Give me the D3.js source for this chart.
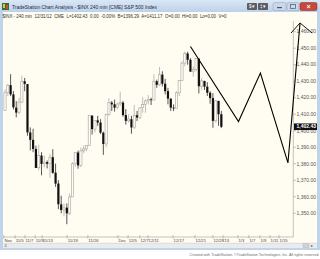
<!DOCTYPE html>
<html lang="en">
<head>
<meta charset="utf-8">
<title>TradeStation Chart Analysis - $INX 240 min</title>
<script src="https://cdn.jsdelivr.net/npm/d3@7"></script>
<style>
  body { margin: 0; background: #fff; }
  svg { display: block; font-family: "Liberation Sans", Arial, sans-serif; }
</style>
</head>
<body>
<div id="chart"></div>
<script>
// 240 min bars, S&P 500, Nov 1 - Dec 28 2012 (two bars a day, one on half days)
var opens  = [1412.2,1423,1427.6,1422,1414,1411,1417.3,1430,1428.3,1399,1394.5,1389,1377.6,1385,1379.9,1381,1380,1384,1374.6,1368,
              1355.4,1352,1353.4,1350,1359.9,1380,1386.8,1379,1387.8,1389,1391,1409.2,1401,1406.3,1405,1398.8,1392,1410,1417,1416,
              1414,1416.3,1417,1409.5,1406,1407,1402,1409.4,1408,1414,1416,1418.1,1419,1418.6,1430,1427.8,1434,1428.5,1424,1419.5,
              1414,1413.5,1423,1430.5,1441,1446.8,1443,1435.8,1437,1443.7,1427,1430.2,1426.7,1423,1419.8,1406,1418.1,1410];
var highs  = [1425,1428.4,1434.3,1424,1418,1419.9,1433.4,1432,1428.3,1402,1401.2,1391,1391.4,1387,1384.9,1382,1386,1388.8,1380.1,1370,
              1360.6,1356,1356,1362,1381,1386.9,1388,1389.8,1391,1391.3,1409.2,1409.2,1406.5,1409,1407,1399.5,1410.3,1419.7,1418,1418.9,
              1417,1423.7,1418,1413.1,1410,1409,1415.6,1412,1414,1420.3,1419,1421.6,1420,1434.3,1431,1438.6,1436,1431.4,1426,1419.5,
              1416,1424,1430.7,1442,1448,1447.8,1444,1439,1443.7,1443.7,1432,1430.2,1429.4,1424,1422.8,1418.5,1418.1,1412];
var lows   = [1412.2,1421,1421,1412.9,1408.1,1410,1417.3,1424,1397,1388.1,1387,1377.5,1376,1373,1378,1377.2,1371.4,1374,1366,1352.5,
              1350,1348.1,1343.4,1349,1359.9,1378,1377,1378,1386.4,1387.5,1391,1397.7,1399,1403,1398,1385.4,1390,1409,1412,1411.6,
              1413,1415,1408.5,1403.7,1405,1398.2,1401,1405.9,1407,1411,1410.9,1416,1415.6,1418.6,1426,1427,1426.8,1422,1416,1412,
              1411.9,1413.5,1421,1430.5,1439,1440,1435.8,1432.8,1436,1422.6,1425,1424.7,1421,1416.4,1401.8,1405,1403,1401.6];
var closes = [1423,1427.6,1422,1414.2,1411,1417.3,1430,1428.4,1399,1394.5,1389,1377.5,1385,1379.9,1381,1380,1384,1374.5,1368,1355.5,
              1352,1353.3,1350,1359.9,1380,1386.9,1379,1387.8,1389,1391,1409.2,1401,1406.3,1405,1398.9,1392,1409.9,1417,1416,1414,
              1416.2,1417,1409.5,1406,1407.1,1402,1409.3,1408,1413.9,1416,1418.1,1419,1418.6,1430,1427.8,1434,1428.5,1424,1419.5,1414,
              1413.6,1423,1430.4,1441,1446.8,1443,1435.8,1437,1443.7,1427,1430.2,1426.7,1423,1419.8,1406,1418.1,1410,1402.4];

var priceTicks = [1350,1360,1370,1380,1390,1400,1410,1420,1430,1440,1450,1460];
var lastPrice = 1402.43;

var dateLabels = ["Nov","11/5","11/7","11/9","11/13","11/19","11/26","Dec","12/5","12/7","12/11",
                  "12/17","12/21","12/28","'13","1/3","1/7","1/9","1/11","1/15"];
var dateIdx    = [-0.4,3.6,7.1,10.7,13.2,22.1,29.5,40.2,43.8,48,50.9,59.8,67.6,74,77.6,82.9,86.8,90.7,94.3,97.5];

// hand drawn projection line and its arrow head (bar index, price)
var drawIdx   = [66.0, 83.1, 90.9, 100.7, 105.0];
var drawPrice = [1451.0, 1405.6, 1435.0, 1380.5, 1465.3];
var arrowIdx   = [101.8, 105.0, 109.3];
var arrowPrice = [1459.2, 1465.3, 1459.2];

var titleText = "TradeStation Chart Analysis - $INX 240 min [CME] S&P 500 Index";
var infoText = "$INX - 240 min  12/31/12  CME  L=1402.43  0.00  -0.00%  B=1396.29  A=1411.17  O=0.00  Hi=0.00  Lo=0.00  V=0";
var footText = "Created with TradeStation. \u00a9TradeStation Technologies, Inc. All rights reserved";

var W = 320, H = 259;
var svg = d3.select("#chart").append("svg")
    .attr("width", W)
    .attr("height", H);

var x = d3.scaleLinear().domain([0, 102.5]).range([5, 293]);
var y = d3.scaleLinear().domain([1350, 1460]).range([213.3, 31.7]);

// window frame
var defs = svg.append("defs");
var tg = defs.append("linearGradient").attr("id", "tbar").attr("x1", 0).attr("y1", 0).attr("x2", 0).attr("y2", 1);
tg.append("stop").attr("offset", "0%").attr("stop-color", "#dbe7f5");
tg.append("stop").attr("offset", "100%").attr("stop-color", "#bcd1ea");

svg.append("rect").attr("width", W).attr("height", H).attr("fill", "#fff");
svg.append("rect").attr("width", W).attr("height", 250).attr("fill", "#bfd3eb");
svg.append("rect").attr("width", W).attr("height", 12).attr("fill", "url(#tbar)");

// icon
svg.append("rect").attr("x", 2).attr("y", 3).attr("width", 7).attr("height", 7).attr("fill", "#2f6f3a");
svg.append("rect").attr("x", 3).attr("y", 4).attr("width", 2).attr("height", 4).attr("fill", "#e8c23a");
svg.append("rect").attr("x", 6).attr("y", 5).attr("width", 2).attr("height", 4).attr("fill", "#d9453a");

svg.append("text").attr("x", 12).attr("y", 8.6)
    .attr("font-size", 5.2).attr("fill", "#1d2b3d")
    .attr("textLength", 145).attr("lengthAdjust", "spacingAndGlyphs")
    .text(titleText);

// title bar buttons
[247, 258].forEach(function(bx, i) {
  svg.append("rect").attr("x", bx).attr("y", 3).attr("width", 10).attr("height", 7)
     .attr("rx", 1).attr("fill", "#5b5d61");
  svg.append("text").attr("x", bx + 2).attr("y", 8.4).attr("font-size", 4.5).attr("fill", "#fff")
     .text(i == 0 ? "$\u25be" : "\u2021\u25be");
});
svg.append("rect").attr("x", 273).attr("y", 2.5).attr("width", 13).attr("height", 8)
    .attr("rx", 1.5).attr("fill", "#c9d7e8").attr("stroke", "#8ea3bd").attr("stroke-width", 0.5);
svg.append("rect").attr("x", 277).attr("y", 7).attr("width", 5).attr("height", 1.2).attr("fill", "#4a5668");
svg.append("rect").attr("x", 287).attr("y", 2.5).attr("width", 12).attr("height", 8)
    .attr("rx", 1.5).attr("fill", "#c9d7e8").attr("stroke", "#8ea3bd").attr("stroke-width", 0.5);
svg.append("rect").attr("x", 290.5).attr("y", 4.5).attr("width", 5).attr("height", 4)
    .attr("fill", "none").attr("stroke", "#4a5668").attr("stroke-width", 0.7);
svg.append("rect").attr("x", 300).attr("y", 2.5).attr("width", 17).attr("height", 8)
    .attr("rx", 1.5).attr("fill", "#c8473b").attr("stroke", "#8a2b22").attr("stroke-width", 0.5);
svg.append("text").attr("x", 308.5).attr("y", 9).attr("text-anchor", "middle")
    .attr("font-size", 7).attr("font-weight", "bold").attr("fill", "#fff").text("\u00d7");

// client area
svg.append("rect").attr("x", 3).attr("y", 12).attr("width", 314).attr("height", 231).attr("fill", "#fffcf1");
svg.append("text").attr("x", 2.5).attr("y", 17.6)
    .attr("font-size", 4.6).attr("fill", "#333")
    .attr("textLength", 224).attr("lengthAdjust", "spacingAndGlyphs")
    .style("white-space", "pre")
    .text(infoText);

// status bar
svg.append("rect").attr("x", 3).attr("y", 243).attr("width", 314).attr("height", 5).attr("fill", "#ebebeb");
svg.append("line").attr("x1", 3).attr("x2", 317).attr("y1", 243.2).attr("y2", 243.2)
    .attr("stroke", "#c8c8c8").attr("stroke-width", 0.5);
svg.append("text").attr("x", 4.5).attr("y", 247.3).attr("font-size", 3.8).attr("fill", "#555").text("4");
svg.append("rect").attr("x", 303).attr("y", 243.8).attr("width", 6).attr("height", 3.8)
    .attr("fill", "#d2d2d2").attr("stroke", "#aaa").attr("stroke-width", 0.4);
svg.append("text").attr("x", 311).attr("y", 247.3).attr("font-size", 3.5).attr("fill", "#555").text("\u25b8");

svg.append("text").attr("x", 318.5).attr("y", 256.2).attr("text-anchor", "end")
    .attr("font-size", 3.6).attr("fill", "#6a6a6a")
    .attr("textLength", 129).attr("lengthAdjust", "spacingAndGlyphs")
    .text(footText);

// axes
var axisColor = "#9a9a9a";
svg.append("line").attr("x1", 293.3).attr("x2", 293.3).attr("y1", 21).attr("y2", 237)
    .attr("stroke", axisColor).attr("stroke-width", 0.6);
svg.append("line").attr("x1", 3).attr("x2", 293.3).attr("y1", 237).attr("y2", 237)
    .attr("stroke", axisColor).attr("stroke-width", 0.6);

var fmt = d3.format(",.2f");
var pt = svg.append("g").selectAll("g").data(priceTicks).enter().append("g")
    .attr("transform", function(d) { return "translate(0," + y(d) + ")"; });
pt.append("line").attr("x1", 293.3).attr("x2", 296).attr("stroke", axisColor).attr("stroke-width", 0.6);
pt.append("text").attr("x", 296.5).attr("dy", "0.35em")
    .attr("font-size", 5).attr("fill", "#555").text(fmt);

var dt = svg.append("g").selectAll("g").data(dateLabels).enter().append("g")
    .attr("transform", function(d, i) { return "translate(" + x(dateIdx[i]) + ",0)"; });
dt.append("line").attr("y1", 235).attr("y2", 238.5).attr("stroke", axisColor).attr("stroke-width", 0.6);
dt.append("text").attr("x", 0.6).attr("y", 242.2)
    .attr("font-size", 4.2).attr("fill", "#444").text(function(d) { return d; });

// candles
var bars = svg.append("g");
var upCol = "#a3a3a3", dnCol = "#111";
closes.forEach(function(c, i) {
  var o = opens[i], up = c >= o, cx = x(i);
  bars.append("line").attr("x1", cx).attr("x2", cx)
      .attr("y1", y(highs[i])).attr("y2", y(lows[i]))
      .attr("stroke", up ? upCol : dnCol).attr("stroke-width", 0.7);
  var top = y(Math.max(o, c)), h = Math.max(0.8, Math.abs(y(o) - y(c)));
  bars.append("rect").attr("x", cx - 1.1).attr("y", top).attr("width", 2.2).attr("height", h)
      .attr("fill", up ? "#fffcf1" : dnCol)
      .attr("stroke", up ? upCol : "none").attr("stroke-width", 0.6);
});

// last price marker
var ly = y(lastPrice);
svg.append("rect").attr("x", 294).attr("y", ly - 3.3).attr("width", 23).attr("height", 6.6).attr("fill", "#111");
svg.append("text").attr("x", 296.5).attr("y", ly).attr("dy", "0.35em")
    .attr("font-size", 5).attr("font-weight", "bold").attr("fill", "#fff").text(fmt(lastPrice));

// drawn zigzag
var line = d3.line().x(function(d) { return x(d[0]); }).y(function(d) { return y(d[1]); });
svg.append("path")
    .attr("d", line(d3.zip(drawIdx, drawPrice)))
    .attr("fill", "none").attr("stroke", "#000").attr("stroke-width", 1.1);
svg.append("path")
    .attr("d", line(d3.zip(arrowIdx, arrowPrice)))
    .attr("fill", "none").attr("stroke", "#000").attr("stroke-width", 0.9);
</script>
</body>
</html>
